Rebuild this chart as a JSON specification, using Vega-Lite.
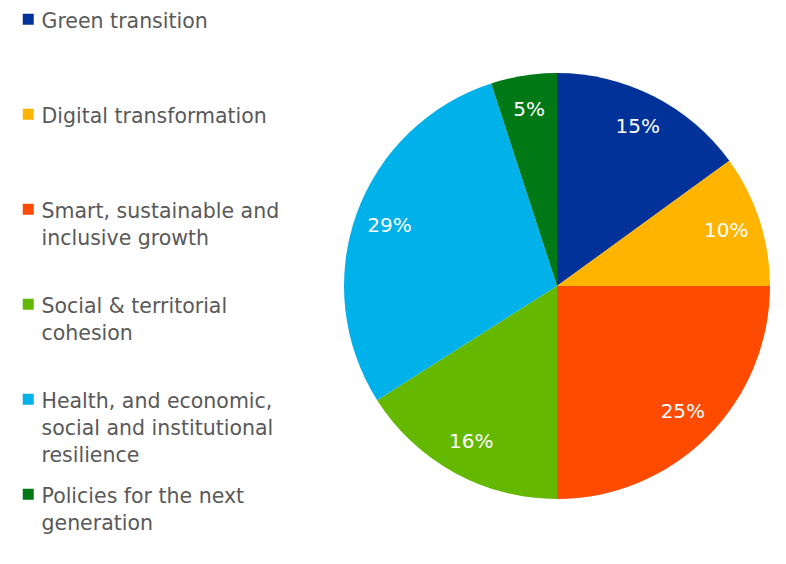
{
  "$schema": "https://vega.github.io/schema/vega-lite/v6.json",
  "width": 440,
  "height": 556,
  "autosize": "none",
  "padding": {"left": 337, "top": 8, "right": 9, "bottom": 0},
  "background": "white",
  "config": {
    "view": {"stroke": null},
    "style": {"guide-label": {"lineHeight": 27}}
  },
  "data": {
    "values": [
      {"category": "Green transition", "label": "Green transition", "value": 15, "order": 1},
      {"category": "Digital transformation", "label": "Digital transformation", "value": 10, "order": 2},
      {"category": "Smart, sustainable and inclusive growth", "label": "Smart, sustainable and|inclusive growth", "value": 25, "order": 3},
      {"category": "Social & territorial cohesion", "label": "Social & territorial|cohesion", "value": 16, "order": 4},
      {"category": "Health, and economic, social and institutional resilience", "label": "Health, and economic,|social and institutional|resilience", "value": 29, "order": 5},
      {"category": "Policies for the next generation", "label": "Policies for the next|generation", "value": 5, "order": 6}
    ]
  },
  "encoding": {
    "theta": {"field": "value", "type": "quantitative", "stack": true},
    "order": {"field": "order", "type": "quantitative"}
  },
  "layer": [
    {
      "mark": {"type": "arc", "outerRadius": 213},
      "encoding": {
        "color": {
          "field": "label",
          "type": "nominal",
          "sort": {"field": "order"},
          "scale": {
            "domain": ["Green transition", "Digital transformation", "Smart, sustainable and|inclusive growth", "Social & territorial|cohesion", "Health, and economic,|social and institutional|resilience", "Policies for the next|generation"],
            "range": ["#003299", "#FFB400", "#FF4B00", "#65B800", "#00B1EA", "#007816"]
          },
          "legend": {
            "title": null,
            "orient": "none",
            "legendX": -319,
            "legendY": 1,
            "padding": 0,
            "symbolType": "square",
            "symbolSize": 121,
            "symbolStrokeWidth": 0,
            "symbolOpacity": 1,
            "labelExpr": "split(datum.label, '|')",
            "labelFont": "DejaVu Sans",
            "labelFontSize": 20.5,
            "labelColor": "#595959",
            "labelLimit": 400,
            "labelOffset": 3,
            "labelBaseline": "alphabetic",
            "gridAlign": "all",
            "rowPadding": 17,
            "encode": {"labels": {"update": {"dy": {"value": 9}}}}
          }
        }
      }
    },
    {
      "mark": {"type": "text", "radius": 178, "fontSize": 20, "font": "DejaVu Sans", "color": "white"},
      "encoding": {
        "text": {"field": "pct", "type": "nominal"}
      },
      "transform": [{"calculate": "datum.value + '%'", "as": "pct"}]
    }
  ]
}
